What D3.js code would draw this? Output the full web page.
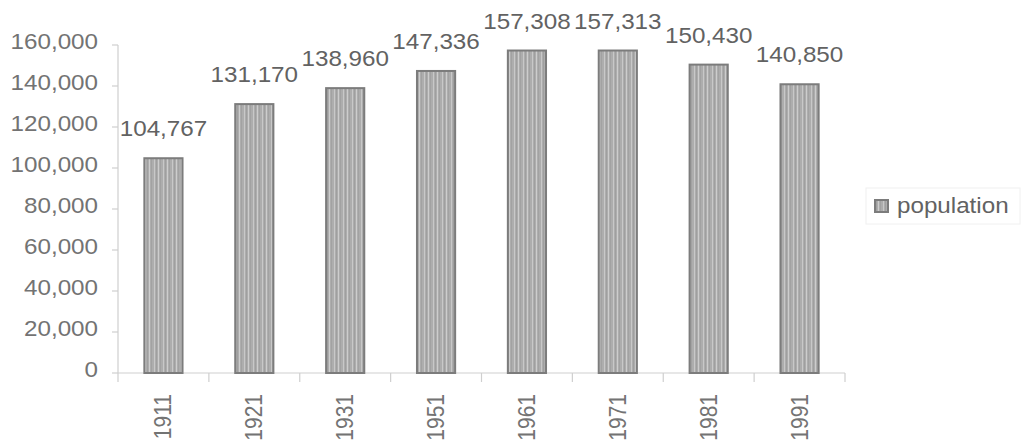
<!DOCTYPE html>
<html>
<head>
<meta charset="utf-8">
<script src="https://cdn.jsdelivr.net/npm/d3@7/dist/d3.min.js"></script>
<style>
  html, body { margin: 0; padding: 0; background: #fff; }
  svg { display: block; }
  text { font-family: "Liberation Sans", Arial, sans-serif; }
</style>
</head>
<body>
<svg id="chart" width="1027" height="446"></svg>
<script>
// Census years and population counts
const years = ["1911", "1921", "1931", "1951", "1961", "1971", "1981", "1991"];
const population = [104767, 131170, 138960, 147336, 157308, 157313, 150430, 140850];
const yTicks = [0, 20000, 40000, 60000, 80000, 100000, 120000, 140000, 160000];
const seriesName = "population";

const svg = d3.select("#chart");
const plot = { left: 118, right: 845, top: 45, bottom: 373 };
const sx = 1.1; // horizontal stretch of the lettering

const fmt = d3.format(",");

const x = d3.scaleBand()
  .domain(years)
  .range([plot.left, plot.right])
  .paddingInner(0.58)
  .paddingOuter(0.29);

const y = d3.scaleLinear()
  .domain([0, 160000])
  .range([plot.bottom, plot.top]);

// Striped fill for the columns
const defs = svg.append("defs");
const pat = defs.append("pattern")
  .attr("id", "stripes")
  .attr("patternUnits", "userSpaceOnUse")
  .attr("width", 9).attr("height", 9);
pat.append("rect").attr("width", 9).attr("height", 9).attr("fill", "#adadad");
[[1, 1, "#c8c8c8"], [3, 1, "#9f9f9f"], [5, 1, "#cdcdcd"], [7, 1, "#a2a2a2"]].forEach(([px, pw, c]) => {
  pat.append("rect").attr("x", px).attr("width", pw).attr("height", 9).attr("fill", c);
});

const axisColor = "#cfcfcf";
const tickText = "#737373";

// Y axis
const yAxis = svg.append("g");
yAxis.append("line")
  .attr("x1", plot.left).attr("x2", plot.left)
  .attr("y1", y(160000)).attr("y2", y(0))
  .attr("stroke", axisColor).attr("stroke-width", 1.2);
yAxis.selectAll("line.tick").data(yTicks).join("line")
  .attr("class", "tick")
  .attr("x1", plot.left - 6).attr("x2", plot.left)
  .attr("y1", d => y(d)).attr("y2", d => y(d))
  .attr("stroke", axisColor).attr("stroke-width", 1.2);
yAxis.selectAll("g.lab").data(yTicks).join("g")
  .attr("class", "lab")
  .attr("transform", d => `translate(98,${y(d) + 4}) scale(${sx},1)`)
  .append("text")
  .attr("text-anchor", "end")
  .attr("font-size", 22)
  .attr("fill", tickText)
  .text(d => fmt(d));

// X axis
const xAxis = svg.append("g");
xAxis.append("line")
  .attr("x1", plot.left).attr("x2", plot.right)
  .attr("y1", plot.bottom).attr("y2", plot.bottom)
  .attr("stroke", axisColor).attr("stroke-width", 1.2);
const edges = [plot.left].concat(years.slice(1).map(d => x(d) - (x.step() - x.bandwidth()) / 2), [plot.right]);
xAxis.selectAll("line.tick").data(edges).join("line")
  .attr("class", "tick")
  .attr("x1", d => d).attr("x2", d => d)
  .attr("y1", plot.bottom).attr("y2", plot.bottom + 9)
  .attr("stroke", axisColor).attr("stroke-width", 1.2);
xAxis.selectAll("g.lab").data(years).join("g")
  .attr("class", "lab")
  .attr("transform", d => `translate(${x(d) + x.bandwidth() / 2 + 8},394) scale(${sx},1) rotate(-90)`)
  .append("text")
  .attr("text-anchor", "end")
  .attr("font-size", 21)
  .attr("fill", tickText)
  .text(d => d);

// Columns
const data = years.map((yr, i) => ({ yr, v: population[i] }));
svg.append("g").selectAll("rect").data(data).join("rect")
  .attr("x", d => x(d.yr))
  .attr("y", d => y(d.v))
  .attr("width", x.bandwidth())
  .attr("height", d => y(0) - y(d.v))
  .attr("fill", "url(#stripes)")
  .attr("stroke", "#7c7c7c")
  .attr("stroke-width", 2);

// Value labels above each column
svg.append("g").selectAll("g").data(data).join("g")
  .attr("transform", d => `translate(${x(d.yr) + x.bandwidth() / 2},${y(d.v) - 22}) scale(${sx},1)`)
  .append("text")
  .attr("text-anchor", "middle")
  .attr("font-size", 22)
  .attr("fill", "#626262")
  .text(d => fmt(d.v));

// Legend
const lg = svg.append("g");
lg.append("rect")
  .attr("x", 866).attr("y", 188).attr("width", 154).attr("height", 36)
  .attr("fill", "none").attr("stroke", "#f0f0f0").attr("stroke-width", 1);
lg.append("rect")
  .attr("x", 875).attr("y", 200).attr("width", 13).attr("height", 12)
  .attr("fill", "url(#stripes)").attr("stroke", "#7c7c7c").attr("stroke-width", 2);
lg.append("g")
  .attr("transform", `translate(897,213) scale(${sx},1)`)
  .append("text")
  .attr("font-size", 22)
  .attr("fill", "#626262")
  .text(seriesName);
</script>
</body>
</html>
